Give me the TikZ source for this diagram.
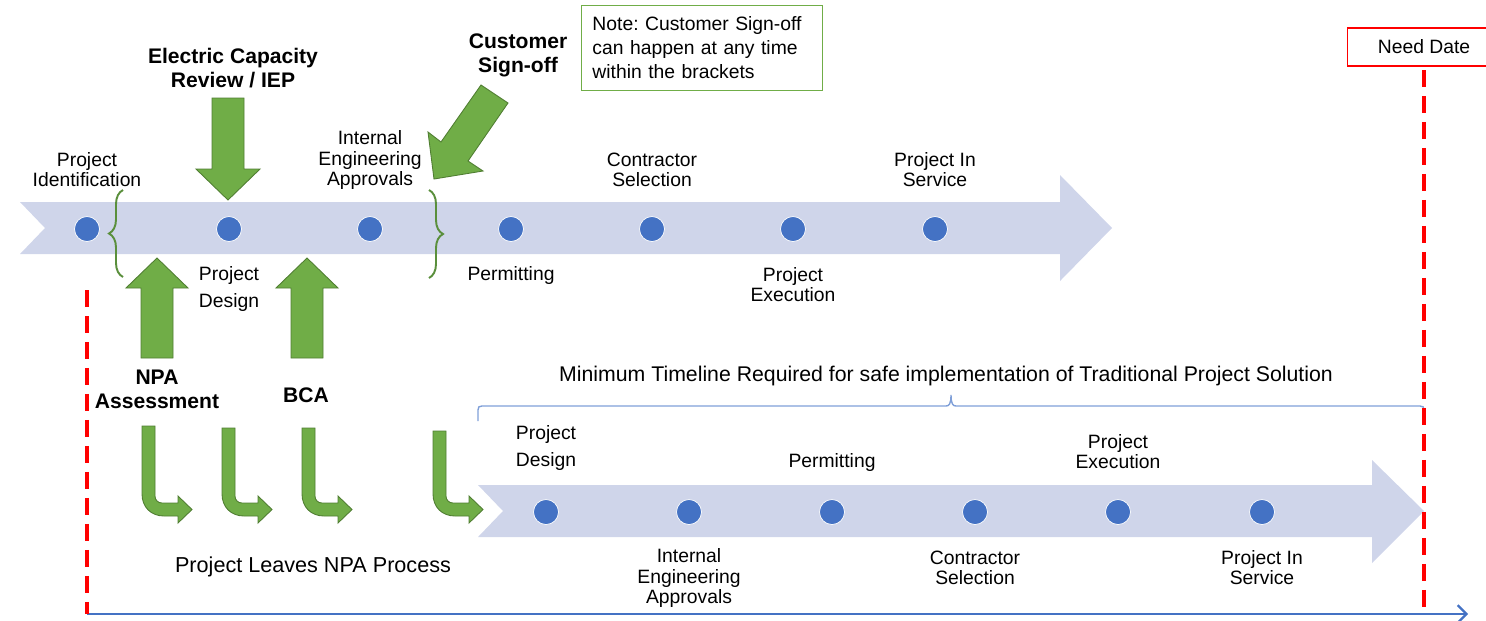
\documentclass[tikz,border=0pt]{standalone}
\usepackage{fontspec}
\setmainfont{Liberation Sans}
\usepackage{tikz}
\usetikzlibrary{arrows.meta,decorations.pathreplacing,positioning}
\definecolor{bandblue}{HTML}{CFD5EA}
\definecolor{dotblue}{HTML}{4472C4}
\definecolor{arrowgreen}{HTML}{70AD47}
\definecolor{arrowedge}{HTML}{507E32}
\definecolor{bracegreen}{HTML}{5A8F3C}
\definecolor{braceblue}{HTML}{7F9FD8}
\frenchspacing

\begin{document}
\begin{tikzpicture}[x=0.02cm, y=-0.02cm,
    band/.style={fill=bandblue},
    milestone/.style={circle, fill=dotblue, draw=white, line width=0.4pt, minimum size=0.5cm, inner sep=0pt},
    lbl/.style={align=center, inner sep=0pt, font=\fontsize{11}{11.4}\selectfont},
    widelbl/.style={align=center, inner sep=0pt, font=\fontsize{11}{15.9}\selectfont},
    boldlbl/.style={align=center, inner sep=0pt, font=\fontsize{12}{13.6}\selectfont\bfseries},
    blockarrow/.style={fill=arrowgreen, draw=arrowedge, line width=0.5pt, line join=miter},
    gbrace/.style={decorate, decoration={brace, amplitude=0.28cm}, draw=bracegreen, line width=1.1pt},
    needline/.style={draw=red, line width=0.07cm, dash pattern=on 0.34cm off 0.18cm},
  ]
  \useasboundingbox (0,0) rectangle (1486,620);

  % top timeline
  \fill[band] (20,202) -- (1060,202) -- (1060,175) -- (1112,228) -- (1060,281)
    -- (1060,254) -- (20,254) -- (45,228) -- cycle;
  \foreach \x [count=\i] in {87,229,370,511,652,793,935}{
    \node[milestone] (t\i) at (\x,229) {};
  }
  \foreach \x/\y/\t [count=\i] in
  {87/170/{Project\\Identification},370/160/{Internal\\Engineering\\Approvals},
   652/170/{Contractor\\Selection},935/170/{Project In\\Service},
   511/275/{Permitting},793/285/{Project\\Execution}}{
    \node[lbl] (tl\i) at (\x,\y) {\t};
  }
  \node[widelbl] (tl7) at (229,289) {Project\\Design};

  % brackets for customer sign-off
  \coordinate (bl1) at (123,277);
  \coordinate (bl2) at (123,190);
  \coordinate (br1) at (429,190);
  \coordinate (br2) at (429,278);
  \draw[gbrace] (bl1) -- (bl2);
  \draw[gbrace] (br1) -- (br2);

  % block arrows into the timeline
  \draw[blockarrow] (212,98) -- (244,98) -- (244,169) -- (260,169) -- (228,200)
    -- (196,169) -- (212,169) -- cycle;
  \foreach \x in {157,307}{
    \draw[blockarrow] (\x-16,358) -- (\x-16,288) -- (\x-31,288) -- (\x,258)
      -- (\x+31,288) -- (\x+16,288) -- (\x+16,358) -- cycle;
  }
  \draw[blockarrow] (434,179) -- (428,132) -- (441,142) -- (481,85) -- (508,103)
    -- (468,161) -- (483,171) -- cycle;
  \node[boldlbl] (capacity) at (233,68) {Electric Capacity\\Review / IEP};
  \node[boldlbl] (signoff) at (518,55) {Customer\\Sign-off};
  \node[boldlbl] (npa) at (157,389) {NPA\\Assessment};
  \node[boldlbl] (bca) at (306,395) {BCA};

  % note and need date
  \node[draw=arrowgreen, line width=0.5pt, anchor=north west, align=left,
    text width=4.38cm, minimum height=1.7cm, inner xsep=0.22cm, inner ysep=0pt,
    font=\fontsize{11}{13.6}\selectfont] (note) at (581,5)
    {Note: Customer Sign-off\\can happen at any time\\within the brackets};
  \node[draw=red, line width=0.6pt, minimum width=3.08cm, minimum height=0.76cm,
    font=\fontsize{11}{13}\selectfont] (need) at (1424,47) {Need Date};

  % bent arrows leaving the process
  \foreach \x/\t in {142/426,222/428,302/428,433/431}{
    \draw[blockarrow] (\x,\t) -- (\x,494) .. controls (\x,507) and ({\x+9},516) .. ({\x+22},516)
      -- ({\x+36},516) -- ({\x+36},523) -- ({\x+50},509.5) -- ({\x+36},496) -- ({\x+36},503)
      -- ({\x+20},503) .. controls ({\x+16},503) and ({\x+13},500) .. ({\x+13},496)
      -- ({\x+13},\t) -- cycle;
  }
  \node[font=\fontsize{12.3}{14}\selectfont, inner sep=0pt] (leaves) at (313,567) {Project Leaves NPA Process};

  % lower timeline
  \fill[band] (478,485) -- (1372,485) -- (1372,460) -- (1424,511) -- (1372,563)
    -- (1372,537) -- (478,537) -- (503,511) -- cycle;
  \foreach \x [count=\i] in {546,689,832,975,1118,1262}{
    \node[milestone] (b\i) at (\x,512) {};
  }
  \foreach \x/\y/\t [count=\i] in
  {832/462/{Permitting},1118/452/{Project\\Execution},
   689/578/{Internal\\Engineering\\Approvals},975/568/{Contractor\\Selection},
   1262/568/{Project In\\Service}}{
    \node[lbl] (bl\i) at (\x,\y) {\t};
  }
  \node[widelbl] (bl6) at (546,448) {Project\\Design};
  \coordinate (mt1) at (478,421);
  \coordinate (mt2) at (1424,421);
  \draw[braceblue, line width=0.8pt] (mt1) -- (478,410) .. controls (478,407) and (479,406) .. (482,406)
    -- (946,406) .. controls (949,406) and (951,404) .. (951,395)
    .. controls (951,404) and (953,406) .. (956,406)
    -- (1420,406) .. controls (1423,406) and (1424,407) .. (1424,410) -- (mt2);
  \node[lbl, font=\fontsize{12.1}{13}\selectfont] (minimum) at (946,376) {Minimum Timeline Required for safe implementation of Traditional Project Solution};

  % need lines and time axis
  \coordinate (start top) at (87,290);
  \coordinate (start) at (87,614);
  \coordinate (need top) at (1424,70);
  \coordinate (need bottom) at (1424,614);
  \coordinate (end) at (1468,614);
  \draw[dotblue, line width=0.045cm, -{Straight Barb[length=5pt, width=10pt]}] (start) -- (end);
  \draw[needline] (start top) -- (start);
  \draw[needline] (need top) -- (need bottom);
\end{tikzpicture}
\end{document}
